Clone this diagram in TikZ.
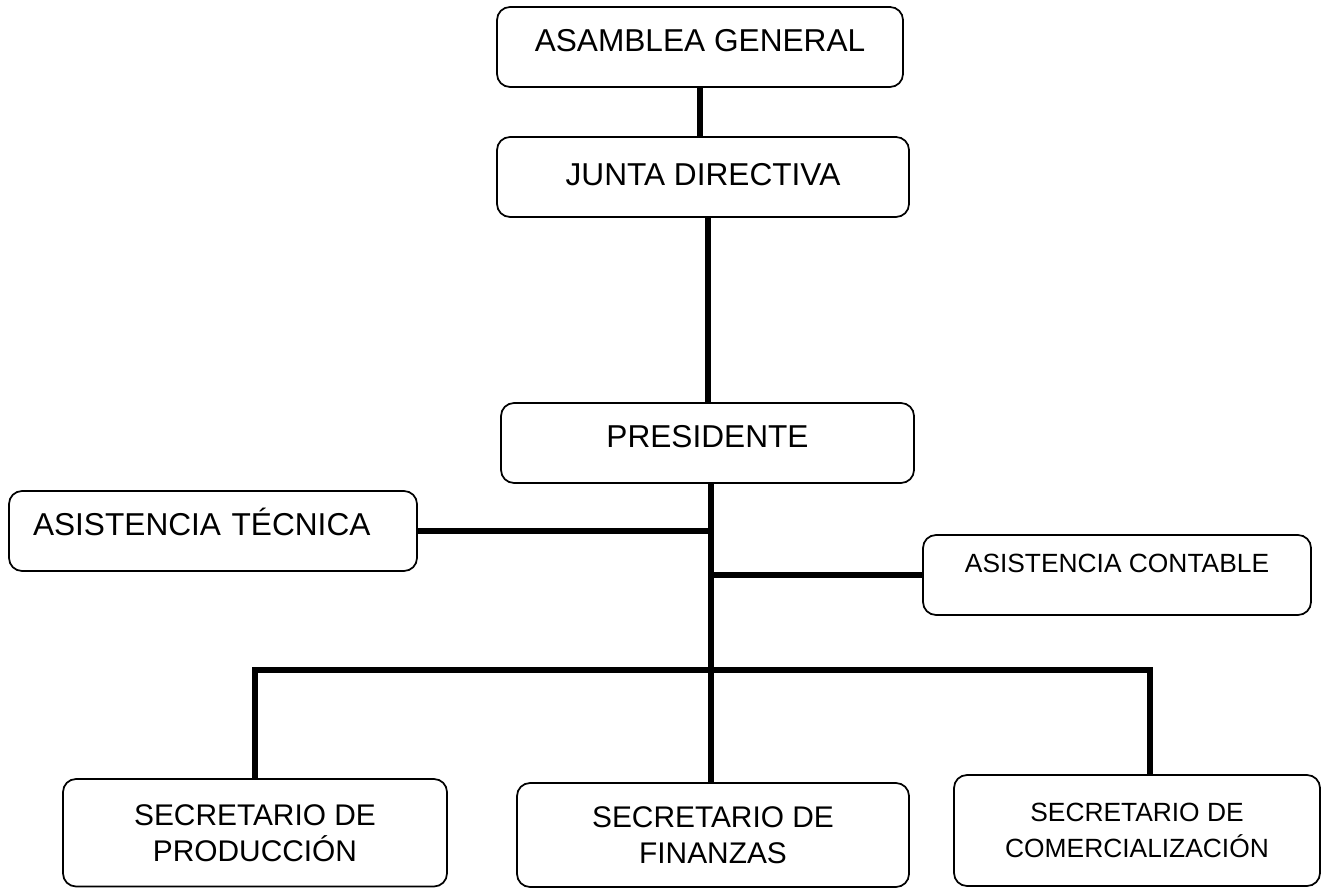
\documentclass[tikz,border=0pt]{standalone}
\usepackage{fontspec}
\setmainfont{Liberation Sans}

\tikzset{
  caja/.style={draw, rounded corners=0.26cm, line width=1pt, minimum height=1.6cm,
    inner sep=0pt, align=center, font=\fontsize{18}{21}\selectfont},
  unalinea/.style={text height=0.45cm, text depth=0.28cm},
  dosfilas/.style={font=\fontsize{17}{20.5}\selectfont},
  chica/.style={font=\fontsize{15}{20.5}\selectfont},
  linea/.style={line width=0.12cm},
}

\begin{document}
\begin{tikzpicture}
  \useasboundingbox (0,0) rectangle (26.46,-17.76);

  % upper levels
  \node[caja, unalinea, minimum width=8.12cm] (asamblea) at (14.00,-0.94) {ASAMBLEA GENERAL};
  \node[caja, text height=0.45cm, text depth=0.12cm, minimum width=8.24cm] (junta) at (14.06,-3.54) {JUNTA DIRECTIVA};
  \node[caja, unalinea, minimum width=8.26cm] (presidente) at (14.15,-8.86) {PRESIDENTE};

  % staff
  \node[caja, unalinea, minimum width=8.16cm, text width=7.2cm, inner xsep=0.48cm, align=left]
    (tecnica) at (4.26,-10.62) {ASISTENCIA TÉCNICA};
  \node[caja, chica, text height=0.38cm, text depth=0.48cm, minimum width=7.76cm]
    (contable) at (22.34,-11.50) {ASISTENCIA CONTABLE};

  % secretaries
  \node[caja, dosfilas, minimum width=7.68cm, minimum height=2.15cm] (produccion) at (5.10,-16.655)
    {SECRETARIO DE\\PRODUCCIÓN};
  \node[caja, dosfilas, minimum width=7.84cm, minimum height=2.08cm] (finanzas) at (14.26,-16.70)
    {SECRETARIO DE\\FINANZAS};
  \node[caja, chica, minimum width=7.32cm, minimum height=2.22cm] (comercial) at (22.74,-16.61)
    {SECRETARIO DE\\COMERCIALIZACIÓN};

  % connectors
  \coordinate (tronco) at ([xshift=-0.04cm]finanzas.north);
  \draw[linea] (asamblea.south) -- (asamblea.south |- junta.north);
  \draw[linea] (presidente.north |- junta.south) -- (presidente.north);
  \draw[linea] (tronco |- presidente.south) -- (tronco);
  \draw[linea] (tecnica.east) -- (tecnica.east -| tronco);
  \draw[linea] (tronco |- contable.west) -- (contable.west);
  \draw[linea] (produccion.north) -- ++(0,2.16) -| ([xshift=0.25cm]comercial.north);
\end{tikzpicture}
\end{document}
